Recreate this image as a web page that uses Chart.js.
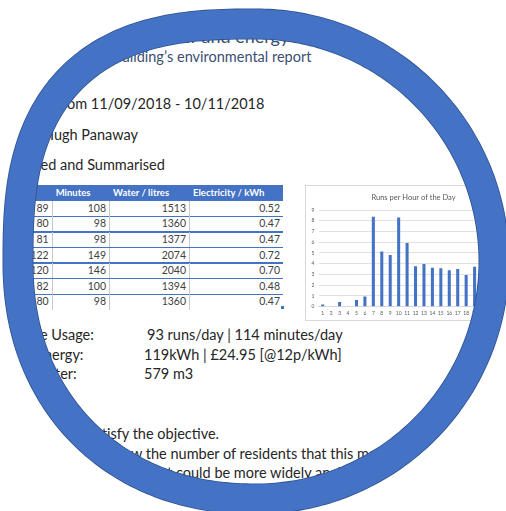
<!DOCTYPE html>
<html>
<head>
<meta charset="utf-8">
<script src="https://cdn.jsdelivr.net/npm/chart.js@4.4.1/dist/chart.umd.min.js"></script>
<style>
html, body { margin:0; padding:0; background:#fff; }
#page { position:relative; width:506px; height:511px; overflow:hidden; font-family:Lato, "Noto Sans", sans-serif; }
#doc { position:absolute; left:0; top:0; width:506px; height:511px; background:#fff; }
.ln { position:absolute; white-space:pre; font-size:14.5px; line-height:16px; color:#262626; }
.ln .pre { position:absolute; right:100%; top:0; white-space:pre; }
.head { color:#3b4f72; }
.big { font-size:18px; line-height:20px; }
.cell { position:absolute; height:15px; line-height:15px; font-size:10.5px; color:#404040; text-align:right; box-sizing:border-box; padding-right:3px; }
.hcell { position:absolute; height:15.7px; line-height:15.7px; font-size:9.5px; font-weight:bold; color:#fff; padding-left:3px; box-sizing:border-box; white-space:nowrap; }
#chartBox { position:absolute; left:305px; top:185px; width:224px; height:134px; border:1px solid #d9d9d9; background:#fff; }
#ring { position:absolute; left:0; top:0; }
</style>
</head>
<body>
<div id="page">
  <div id="doc">
    <div id="chartBox"><canvas id="myChart" width="224" height="134"></canvas></div>
  </div>
  <svg id="ring" width="506" height="511">
    <path id="edge" fill="none" stroke="#2F528F" stroke-width="31"/>
    <path id="band" fill="none" stroke="#4472C4" stroke-width="29.4"/>
  </svg>
</div>

<script>
// chart data
var hours = ['1','2','3','4','5','6','7','8','9','10','11','12','13','14','15','16','17','18','19','20','21','22','23','24'];
var runsPerHour = [0.2, 0.05, 0.43, 0.05, 0.62, 0.96, 8.37, 5.13, 4.82, 8.3, 5.93, 3.77, 3.97, 3.63, 3.57, 3.4, 3.5, 2.96, 3.72, 3.1, 2.4, 1.5, 0.9, 0.4];
var yTicksMax = 9;

// table data
var tableHeaders = ['Runs', 'Minutes', 'Water / litres', 'Electricity / kWh'];
var tableRuns = [89, 80, 81, 122, 120, 82, 80];
var tableMinutes = [108, 98, 98, 149, 146, 100, 98];
var tableWater = [1513, 1360, 1377, 2074, 2040, 1394, 1360];
var tableElec = ['0.52', '0.47', '0.47', '0.72', '0.70', '0.48', '0.47'];

var doc = document.getElementById('doc');

function addLine(pre, txt, x, yc, cls) {
    var d = document.createElement('div');
    d.className = 'ln' + (cls ? ' ' + cls : '');
    d.style.left = x + 'px';
    d.style.top = (yc - (cls && cls.indexOf('big') >= 0 ? 10 : 8)) + 'px';
    var p = document.createElement('span');
    p.className = 'pre';
    p.textContent = pre;
    d.appendChild(p);
    d.appendChild(document.createTextNode(txt));
    doc.appendChild(d);
}

addLine('Recording the washing machine\u2019s w', 'ater and energy usage', 166, 35.5, 'head big');
addLine('to feed into the building\u2019', 's environmental report', 167, 57, 'head');
addLine('Data f', 'rom 11/09/2018 - 10/11/2018', 62, 104);
addLine('Compiled by Hu', 'gh Panaway', 62, 135);
addLine('Data Collated ', 'and Summarised', 60, 165);

addLine('Machin', 'e Usage:', 40, 335);
addLine('', '93 runs/day | 114 minutes/day', 147, 335);
addLine('Total E', 'nergy:', 44, 355);
addLine('', '119kWh | \u00a324.95 [@12p/kWh]', 144, 355);
addLine('Total Wa', 'ter:', 55, 374);
addLine('', '579 m3', 144, 374);

addLine('The data collected does sat', 'isfy the objective.', 107, 434);
addLine('It would be useful to know t', 'he number of residents that this machine serves', 151, 454);
addLine('and give a figure th', 'at could be more widely analysed.', 160, 473);

// table
var colEdges = [-10, 52.7, 110, 190, 283];
var tableTop = 185, headH = 15.7, rowH = 15.6;
var hdr = document.createElement('div');
hdr.style.cssText = 'position:absolute;background:#4472C4;left:' + colEdges[0] + 'px;top:' + tableTop + 'px;width:' + (colEdges[4] - colEdges[0]) + 'px;height:' + headH + 'px';
doc.appendChild(hdr);
tableHeaders.forEach(function (h, i) {
    var c = document.createElement('div');
    c.className = 'hcell';
    c.style.left = colEdges[i] + 'px';
    c.style.top = tableTop + 'px';
    c.style.width = (colEdges[i + 1] - colEdges[i]) + 'px';
    c.textContent = h;
    doc.appendChild(c);
});
var cols = [tableRuns, tableMinutes, tableWater, tableElec];
for (var r = 0; r < tableRuns.length; r++) {
    var rowTop = tableTop + headH + r * rowH;
    for (var k = 0; k < 4; k++) {
        var c = document.createElement('div');
        c.className = 'cell';
        c.style.left = colEdges[k] + 'px';
        c.style.top = rowTop + 'px';
        c.style.width = (colEdges[k + 1] - colEdges[k]) + 'px';
        c.style.height = rowH + 'px';
        c.textContent = cols[k][r];
        if (k < 3) c.style.borderRight = '1px solid #c8c8c8';
        doc.appendChild(c);
    }
    if (r < tableRuns.length - 1) {
        var line = document.createElement('div');
        line.style.cssText = 'position:absolute;background:#4472C4;height:1.5px;left:' + colEdges[0] + 'px;width:' + (colEdges[4] - colEdges[0]) + 'px;top:' + (rowTop + rowH - 0.75) + 'px';
        doc.appendChild(line);
    }
}
var handle = document.createElement('div');
handle.style.cssText = 'position:absolute;background:#4472C4;left:281px;top:306px;width:3px;height:3px';
doc.appendChild(handle);

// ring: one thick stroke, a little squarer on the left than on the right
function shape(cx, cy, rx, ry) {
    var d = '';
    for (var i = 0; i <= 360; i++) {
        var t = i * Math.PI / 180, co = Math.cos(t), si = Math.sin(t);
        var n = co < 0 ? (si < 0 ? 2.7 : 2.15) : 2;
        var x = cx + rx * Math.sign(co) * Math.pow(Math.abs(co), 2 / n);
        var y = cy + ry * Math.sign(si) * Math.pow(Math.abs(si), 2 / n);
        d += (i ? 'L' : 'M') + x.toFixed(2) + ',' + y.toFixed(2);
    }
    return d + 'Z';
}
var mid = shape(256, 261.5, 238, 237.5);
document.getElementById('edge').setAttribute('d', mid);
document.getElementById('band').setAttribute('d', mid);
doc.style.clipPath = "path('" + mid + "')";

// chart
var ctx = document.getElementById('myChart').getContext('2d');
var chart = new Chart(ctx, {
    type: 'bar',
    data: {
        labels: hours,
        datasets: [{
            label: 'Runs',
            data: runsPerHour,
            backgroundColor: '#4472C4',
            barPercentage: 0.36,
            categoryPercentage: 1
        }]
    },
    options: {
        responsive: false,
        animation: false,
        devicePixelRatio: 1,
        layout: { padding: { left: 0, right: 9, top: 0, bottom: 0 } },
        plugins: {
            legend: { display: false },
            tooltip: { enabled: false },
            title: {
                display: true,
                text: 'Runs per Hour of the Day',
                color: '#595959',
                font: { family: 'Lato', size: 7.5, weight: 'normal' },
                padding: { top: 7, bottom: 8 }
            }
        },
        scales: {
            x: {
                grid: { display: false, drawTicks: false },
                border: { color: '#d9d9d9' },
                ticks: { color: '#595959', font: { family: 'Lato', size: 5 }, padding: 4, autoSkip: false, maxRotation: 0 },
                afterFit: function (s) { s.height = 13.3; }
            },
            y: {
                min: 0,
                max: yTicksMax,
                grid: { color: '#d9d9d9', lineWidth: 0.8, drawTicks: false },
                border: { display: false },
                ticks: { stepSize: 1, color: '#595959', font: { family: 'Lato', size: 5 }, padding: 4 },
                afterFit: function (s) { s.width = 12.5; }
            }
        }
    }
});
</script>
</body>
</html>
